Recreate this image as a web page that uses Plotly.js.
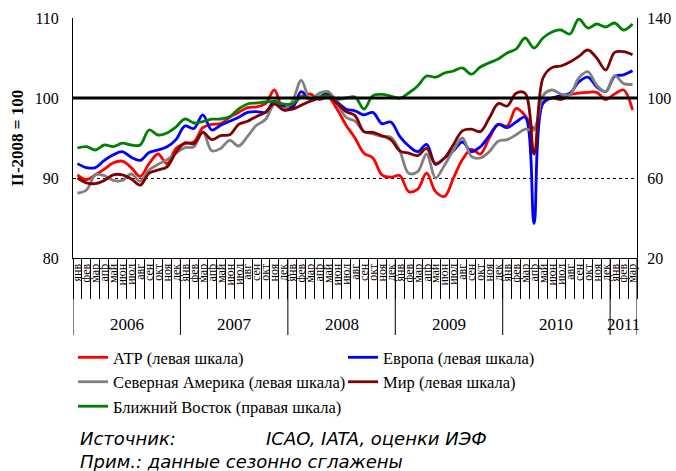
<!DOCTYPE html>
<html>
<head>
<meta charset="utf-8">
<script src="https://cdn.plot.ly/plotly-3.0.1.min.js"></script>
<style>html,body{margin:0;padding:0;background:#fff;}</style>
</head>
<body>
<div id="chart" style="width:676px;height:471px;"></div>
<script>
// ---- data ----
const monthNames = ['янв','фев','мар','апр','май','июн','июл','авг','сен','окт','ноя','дек'];
const yearLabels = ['2006','2007','2008','2009','2010','2011'];
const monthsPerYear = [12, 12, 12, 12, 12, 3];

const seriesNames = ['АТР (левая шкала)', 'Европа (левая шкала)', 'Северная Америка (левая шкала)', 'Мир (левая шкала)', 'Ближний Восток (правая шкала)'];

const apac = [90.4,89.8,90.4,91.1,91.9,92.1,91.3,90.2,91.8,93.0,91.8,93.7,
              94.3,94.5,96.3,96.7,96.8,97.6,98.2,98.8,98.9,99.3,101.0,98.5,
              99.0,100.2,100.5,99.8,100.1,98.6,96.6,95.0,93.1,92.5,90.4,90.1,
              90.3,88.3,88.6,90.6,88.3,87.7,90.0,92.3,93.6,93.0,95.0,96.7,
              96.5,98.7,97.8,96.2,99.3,100.0,99.8,100.4,100.6,100.7,100.7,99.8,
              100.5,101.0,98.5];
const europe = [91.8,91.3,91.3,92.2,92.9,93.3,92.6,92.2,93.2,93.5,93.9,94.8,
                96.5,96.2,97.9,96.0,96.6,97.1,97.6,98.2,98.3,98.2,99.6,99.0,
                98.8,100.8,99.8,100.1,100.6,99.5,98.6,98.4,97.9,98.2,96.8,97.0,
                95.2,94.0,93.3,94.2,91.7,92.5,93.4,94.5,93.3,93.9,95.3,96.7,
                96.3,97.0,97.6,84.3,99.4,100.0,100.3,100.6,102.0,102.6,101.4,100.8,
                102.7,102.9,103.4];
const northAmerica = [88.1,88.5,90.4,90.3,89.7,89.7,90.5,89.6,91.0,91.7,92.3,93.1,
                      93.8,93.9,95.8,93.4,93.7,94.7,94.0,95.2,96.6,97.3,99.2,98.6,
                      99.6,102.2,99.8,100.6,100.8,99.3,97.6,97.1,95.8,95.5,95.2,95.1,
                      93.4,90.6,90.8,93.0,90.0,91.6,93.5,95.0,92.7,92.5,93.3,94.6,
                      94.8,95.4,96.1,96.0,100.3,101.0,100.5,100.4,102.5,103.3,101.6,100.8,
                      102.8,101.8,101.7];
const world = [90.0,89.4,89.3,89.7,90.4,90.4,89.9,89.1,90.6,91.0,91.4,93.2,
               94.4,94.3,95.7,94.8,95.3,95.4,96.7,97.1,97.7,98.2,99.3,98.5,
               98.6,99.1,99.6,100.0,100.4,99.3,98.3,97.8,95.8,95.7,95.3,94.8,
               93.4,93.1,92.8,93.7,91.8,92.5,94.2,95.9,96.1,95.8,97.5,99.3,
               99.0,100.6,100.6,93.0,102.5,103.8,104.0,104.5,105.2,106.0,105.0,103.5,
               105.7,105.8,105.4];
const middleEast = [75.0,75.7,74.0,76.5,75.7,77.4,76.5,76.5,84.0,81.5,82.5,85.5,
                    89.5,87.5,88.2,89.4,89.5,90.6,94.5,97.0,97.5,98.0,98.2,97.0,
                    97.0,100.6,99.8,100.6,101.0,99.4,100.0,100.5,94.5,101.2,101.8,101.0,
                    99.9,102.5,106.0,111.0,110.4,112.5,113.5,115.0,111.9,115.5,117.6,119.5,
                    122.5,124.5,130.0,125.0,130.0,133.0,134.0,132.0,139.5,135.0,137.0,135.5,
                    137.5,134.0,137.0];

const leftTicks = [80, 90, 100, 110];
const rightTicks = [20, 60, 100, 140];
const baseValue = 100;
const sourceText = 'Источник:';
const sourceOrgs = 'ICAO, IATA, оценки ИЭФ';
const noteText = 'Прим.: данные сезонно сглажены';

// ---- derived categories ----
const periods = [], tickText = [];
yearLabels.forEach((y, k) => {
  for (let m = 0; m < monthsPerYear[k]; m++) { periods.push(monthNames[m] + ' ' + y); tickText.push(monthNames[m]); }
});
const xIdx = periods.map((_, i) => i);

const colors = ['#ff0000', '#0000ff', '#808080', '#800000', '#008000'];
const values = [apac, europe, northAmerica, world, middleEast];

const traces = values.map((v, k) => ({
  type: 'scatter', mode: 'lines',
  x: xIdx, y: v, customdata: periods,
  name: seriesNames[k],
  yaxis: k === 4 ? 'y2' : 'y',
  line: {color: colors[k], width: 2.8, shape: 'spline', smoothing: 1},
  hovertemplate: '%{customdata}: %{y}<extra>' + seriesNames[k] + '</extra>'
}));

// year dividers and labels
const shapes = [];
const annotations = [];
let start = 0;
const bounds = [-0.5];
yearLabels.forEach((y, k) => {
  const n = monthsPerYear[k];
  annotations.push({xref: 'x', yref: 'paper', x: start + (n - 1) / 2, y: -0.279, text: y, showarrow: false,
    xanchor: 'center', yanchor: 'middle', font: {family: 'Liberation Serif', size: 17, color: '#000'}});
  start += n;
  bounds.push(start - 0.5);
});
bounds.forEach(b => shapes.push({type: 'line', xref: 'x', yref: 'paper', x0: b, x1: b, y0: 0, y1: -0.321,
  line: {color: '#000', width: 1}}));
shapes.push({type: 'line', xref: 'paper', yref: 'y', x0: 0, x1: 1, y0: baseValue, y1: baseValue,
  line: {color: '#000', width: 3}});

const noteFont = {family: 'DejaVu Sans', size: 18, color: '#000', style: 'italic'};
annotations.push({xref: 'paper', yref: 'paper', x: 0.009, y: -0.75, xanchor: 'left', yanchor: 'middle', showarrow: false, text: sourceText, font: noteFont});
annotations.push({xref: 'paper', yref: 'paper', x: 0.339, y: -0.75, xanchor: 'left', yanchor: 'middle', showarrow: false, text: sourceOrgs, font: noteFont});
annotations.push({xref: 'paper', yref: 'paper', x: 0.009, y: -0.846, xanchor: 'left', yanchor: 'middle', showarrow: false, text: noteText, font: noteFont});

const layout = {
  width: 676, height: 471,
  margin: {l: 73, r: 39, t: 18, b: 213, pad: 0},
  paper_bgcolor: '#fff', plot_bgcolor: '#fff',
  font: {family: 'Liberation Serif', color: '#000'},
  showlegend: true,
  legend: {orientation: 'h', x: 0, xanchor: 'left', y: -0.342, yanchor: 'top',
    entrywidth: 225, entrywidthmode: 'pixels', font: {family: 'Liberation Serif', size: 16.5, color: '#000'},
    bgcolor: 'rgba(0,0,0,0)', traceorder: 'normal'},
  xaxis: {range: [-0.5, 62.5], tickmode: 'array', tickvals: xIdx, ticktext: tickText, tickangle: -90,
    ticks: '', showline: true, linecolor: '#000', linewidth: 1, showgrid: false, zeroline: false,
    tickfont: {family: 'Liberation Serif', size: 12, color: '#000'},
    minor: {ticks: 'outside', tickmode: 'linear', tick0: -0.5, dtick: 1, ticklen: 40, tickcolor: '#000', tickwidth: 1, showgrid: false},
    fixedrange: true},
  yaxis: {range: [80, 110], tickmode: 'array', tickvals: leftTicks, showline: true, linecolor: '#000', linewidth: 1,
    ticks: '', showgrid: true, gridcolor: '#000', gridwidth: 1, griddash: '3px,3px', zeroline: false,
    ticklabelstandoff: 10,
    tickfont: {family: 'Liberation Serif', size: 16, color: '#000'},
    title: {text: 'II-2008 = 100', standoff: 6, font: {family: 'Liberation Serif', size: 17, weight: 'bold', color: '#000'}},
    fixedrange: true},
  yaxis2: {range: [20, 140], tickmode: 'array', tickvals: rightTicks, overlaying: 'y', side: 'right',
    showline: true, linecolor: '#000', linewidth: 1, ticks: '', showgrid: false, zeroline: false,
    ticklabelstandoff: 6,
    tickfont: {family: 'Liberation Serif', size: 16, color: '#000'}, fixedrange: true},
  shapes: shapes,
  annotations: annotations
};

Plotly.newPlot('chart', traces, layout, {displayModeBar: false});
</script>
</body>
</html>
